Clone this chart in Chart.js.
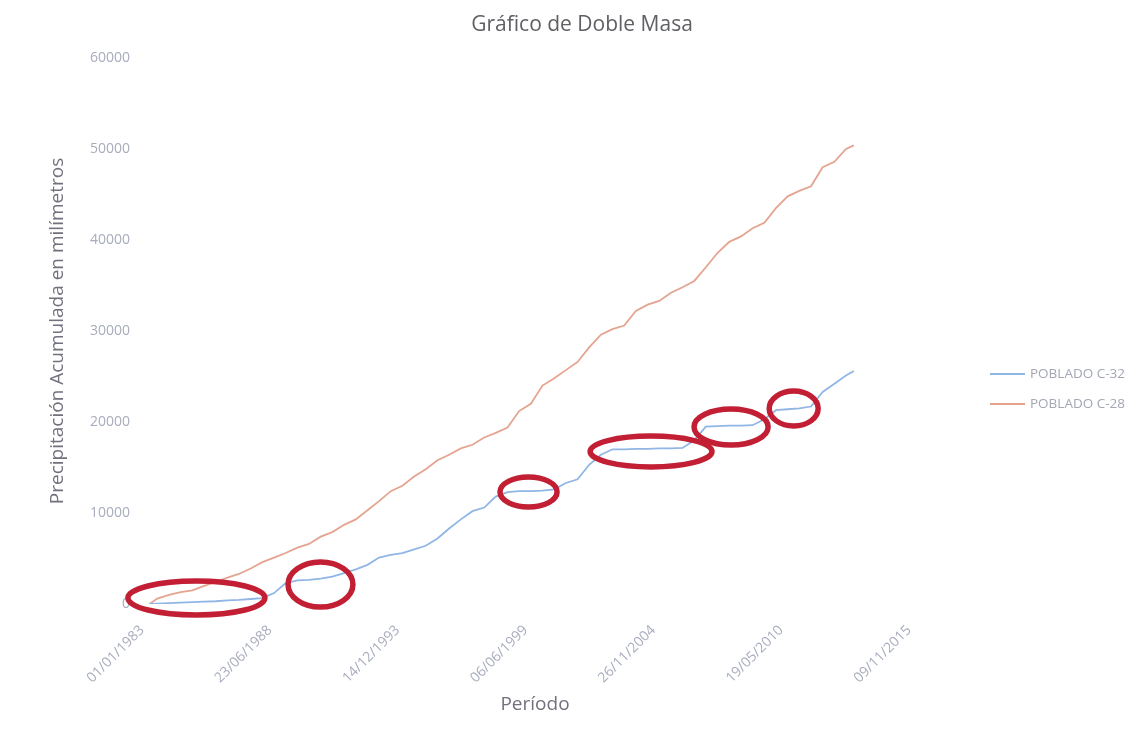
<!DOCTYPE html>
<html><head><meta charset="utf-8">
<script src="https://cdn.jsdelivr.net/npm/chart.js@4.4.1/dist/chart.umd.min.js"></script>
<style>html,body{margin:0;padding:0;background:#fff}#wrap{width:1135px;height:740px}</style>
</head><body><div id="wrap"><canvas id="c" width="1135" height="740"></canvas></div>
<script>
const chartTitle = 'Gráfico de Doble Masa';
const xAxisTitle = 'Período';
const yAxisTitle = 'Precipitación Acumulada en milímetros';
const seriesNames = ['POBLADO C-32', 'POBLADO C-28'];

const periods = ['1983-09-01',
 '1984-01-01','1984-07-01','1985-01-01','1985-07-01','1986-01-01','1986-07-01','1987-01-01','1987-07-01',
 '1988-01-01','1988-07-01','1989-01-01','1989-07-01','1990-01-01','1990-07-01','1991-01-01','1991-07-01',
 '1992-01-01','1992-07-01','1993-01-01','1993-07-01','1994-01-01','1994-07-01','1995-01-01','1995-07-01',
 '1996-01-01','1996-07-01','1997-01-01','1997-07-01','1998-01-01','1998-07-01','1999-01-01','1999-07-01',
 '2000-01-01','2000-07-01','2001-01-01','2001-07-01','2002-01-01','2002-07-01','2003-01-01','2003-07-01',
 '2004-01-01','2004-07-01','2005-01-01','2005-07-01','2006-01-01','2006-07-01','2007-01-01','2007-07-01',
 '2008-01-01','2008-07-01','2009-01-01','2009-07-01','2010-01-01','2010-07-01','2011-01-01','2011-07-01',
 '2012-01-01','2012-07-01','2013-01-01','2013-07-01','2013-11-01'];

const poblado32 = [0,
 50,100,150,200,250,300,400,450,
 550,650,1200,2300,2600,2650,2800,3000,
 3400,3800,4300,5100,5400,5600,6000,6400,
 7200,8300,9300,10200,10600,11800,12300,12400,
 12400,12450,12600,13300,13700,15300,16400,17000,
 17000,17050,17050,17100,17100,17150,18000,19500,
 19550,19600,19600,19650,20300,21300,21400,21500,
 21700,23300,24200,25100,25600];

const poblado28 = [0,
 600,1000,1300,1500,2000,2400,2900,3300,
 3900,4600,5100,5600,6200,6600,7400,7900,
 8700,9300,10300,11300,12400,13000,14000,14800,
 15800,16400,17100,17500,18300,18800,19400,21200,
 22000,24000,24800,25700,26600,28200,29600,30200,
 30600,32200,32900,33300,34200,34800,35500,37000,
 38600,39800,40400,41300,41900,43500,44800,45400,
 45900,48000,48600,50000,50400];

const xAxisStart = '1983-01-01';
const xAxisEnd = '2015-11-09';
const xTickStepDays = 2000;
const yAxisMin = 0, yAxisMax = 60000, yTickStep = 10000;

// circled periods (annotations in the original)
const highlightFrom = ['1982-09-28','1989-08-07','1998-09-05','2002-07-16','2006-12-28','2010-03-18'];
const highlightTo   = ['1988-08-10','1992-05-18','2001-02-14','2007-10-05','2010-03-01','2012-04-22'];
const highlightLow  = [-1210, -330, 10660, 15060, 17470, 19560];
const highlightHigh = [2530, 4620, 13960, 18460, 21430, 23400];

function toSerial(s) {
  const [y, m, d] = s.split('-').map(Number);
  return Math.round((Date.UTC(y, m - 1, d) - Date.UTC(1899, 11, 30)) / 86400000);
}
function fromSerial(n) {
  const dt = new Date(Date.UTC(1899, 11, 30) + n * 86400000);
  const p = v => String(v).padStart(2, '0');
  return p(dt.getUTCDate()) + '/' + p(dt.getUTCMonth() + 1) + '/' + dt.getUTCFullYear();
}

const FONT = 'Open Sans';
const tickColor = '#a8adbd';
const titleColor = '#75707e';

const ellipsePlugin = {
  id: 'ellipses',
  afterDatasetsDraw(chart) {
    const ctx = chart.ctx, xs = chart.scales.x, ys = chart.scales.y;
    ctx.save();
    ctx.strokeStyle = 'rgb(194,30,52)';
    ctx.lineWidth = 5.5;
    for (let i = 0; i < highlightFrom.length; i++) {
      const x1 = xs.getPixelForValue(toSerial(highlightFrom[i]));
      const x2 = xs.getPixelForValue(toSerial(highlightTo[i]));
      const y1 = ys.getPixelForValue(highlightHigh[i]);
      const y2 = ys.getPixelForValue(highlightLow[i]);
      ctx.beginPath();
      ctx.ellipse((x1 + x2) / 2, (y1 + y2) / 2, Math.abs(x2 - x1) / 2, Math.abs(y2 - y1) / 2, 0, 0, Math.PI * 2);
      ctx.stroke();
    }
    ctx.restore();
  }
};

const textPlugin = {
  id: 'texts',
  afterDraw(chart) {
    const ctx = chart.ctx;
    ctx.save();
    ctx.textBaseline = 'middle';
    // chart title
    ctx.textAlign = 'center';
    ctx.fillStyle = '#5f6064';
    ctx.font = '21px "' + FONT + '"';
    ctx.fillText(chartTitle, 582, 25);
    // x axis title
    ctx.fillStyle = titleColor;
    ctx.font = '19px "' + FONT + '"';
    ctx.fillText(xAxisTitle, 535, 705);
    // legend
    ctx.textAlign = 'left';
    ctx.font = '13.5px "' + FONT + '"';
    chart.data.datasets.forEach((ds, i) => {
      const y = 374 + i * 30;
      ctx.strokeStyle = ds.borderColor;
      ctx.lineWidth = 2;
      ctx.beginPath(); ctx.moveTo(990, y); ctx.lineTo(1025, y); ctx.stroke();
      ctx.fillStyle = '#a3a7b3';
      ctx.fillText(ds.label, 1030, y);
    });
    ctx.restore();
  }
};

new Chart(document.getElementById('c'), {
  type: 'line',
  data: {
    datasets: [
      { label: seriesNames[0], data: periods.map((p, i) => ({ x: toSerial(p), y: poblado32[i] })),
        borderColor: 'rgb(144,182,230)', borderWidth: 1.8, pointRadius: 0, tension: 0, fill: false },
      { label: seriesNames[1], data: periods.map((p, i) => ({ x: toSerial(p), y: poblado28[i] })),
        borderColor: 'rgb(228,164,144)', borderWidth: 1.8, pointRadius: 0, tension: 0, fill: false }
    ]
  },
  options: {
    responsive: false, animation: false, devicePixelRatio: 1,
    layout: { padding: { left: 45, right: 234, top: 58, bottom: 0 } },
    plugins: {
      legend: { display: false },
      tooltip: { enabled: false },
      title: { display: false }
    },
    scales: {
      x: {
        type: 'linear', min: toSerial(xAxisStart), max: toSerial(xAxisEnd),
        grid: { display: false, drawTicks: false }, border: { display: false },
        ticks: { stepSize: xTickStepDays, minRotation: 45, maxRotation: 45, color: tickColor,
          font: { family: FONT, size: 14 }, callback: v => fromSerial(v), padding: 18, labelOffset: 8 },
        afterFit: s => { s.height = 136; }
      },
      y: {
        min: yAxisMin, max: yAxisMax,
        grid: { display: false, drawTicks: false }, border: { display: false },
        ticks: { stepSize: yTickStep, color: tickColor, font: { family: FONT, size: 14 },
          callback: v => String(v), padding: 4 },
        title: { display: true, text: yAxisTitle, color: titleColor,
          font: { family: FONT, size: 19 }, padding: { top: 1, bottom: 10 } },
        afterFit: s => { s.width = 89; }
      }
    }
  },
  plugins: [ellipsePlugin, textPlugin]
});
</script></body></html>
